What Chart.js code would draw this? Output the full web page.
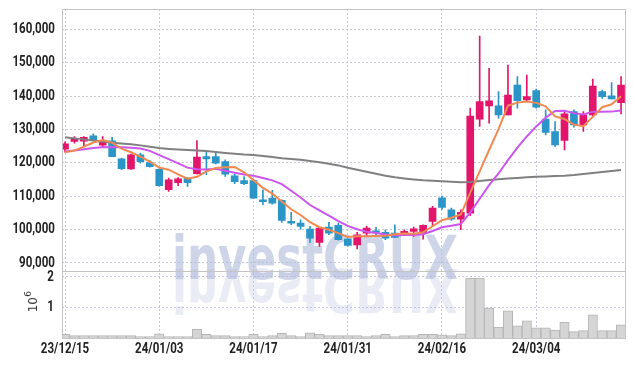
<!DOCTYPE html>
<html><head><meta charset="utf-8">
<script src="https://cdn.jsdelivr.net/npm/chart.js@4"></script>
<style>html,body{margin:0;padding:0;background:#fff;}canvas{display:block;}</style>
</head><body>
<canvas id="c" width="634" height="366"></canvas>
<script>
const dates = ['23/12/15','23/12/18','23/12/19','23/12/20','23/12/21','23/12/22','23/12/26','23/12/27','23/12/28','24/01/02',
'24/01/03','24/01/04','24/01/05','24/01/08','24/01/09','24/01/10','24/01/11','24/01/12','24/01/15','24/01/16',
'24/01/17','24/01/18','24/01/19','24/01/22','24/01/23','24/01/24','24/01/25','24/01/26','24/01/29','24/01/30',
'24/01/31','24/02/01','24/02/02','24/02/05','24/02/06','24/02/07','24/02/08','24/02/13','24/02/14','24/02/15',
'24/02/16','24/02/19','24/02/20','24/02/21','24/02/22','24/02/23','24/02/26','24/02/27','24/02/28','24/02/29',
'24/03/04','24/03/05','24/03/06','24/03/07','24/03/08','24/03/11','24/03/12','24/03/13','24/03/14','24/03/15'];

const openP = [124100,126350,126450,128050,125250,126550,121150,118150,122350,120050,
118000,111900,114050,115400,116700,121850,121850,120350,116050,114650,
114650,108900,109400,108700,102400,101900,100100,96100,100700,101200,
97100,95400,98900,99600,99100,98900,98700,99400,98900,102400,
109500,105900,103100,104900,133050,137050,137050,134350,143300,138850,
141600,133050,129350,126650,135350,131350,134350,141300,140050,138000];
const highP = [126300,127850,127850,128650,127850,127650,121400,122600,122900,120650,
118200,115400,115550,115600,126650,123350,123350,120850,116650,115850,
114900,111900,111700,108900,105100,102900,100900,100700,102100,101900,
97300,99100,100900,100600,99900,101400,99900,100700,101400,106900,
110000,106400,105900,136350,158000,148300,141300,149300,145800,146300,
142050,135850,132350,135350,135850,135350,145050,141800,144000,145800];
const lowP = [123200,125850,125050,126700,124650,121800,117900,118000,119900,118650,
113000,111400,113100,112900,116600,116400,119650,115870,113700,113400,
109300,107400,107600,102100,101400,100100,96100,94900,98400,96800,
95000,94200,97900,98200,96900,97500,98400,97900,97100,100900,
106000,102700,99900,104100,130850,131850,133350,134300,136350,138300,
136350,128350,124850,123850,130650,129350,133850,139300,139100,134650];
const closeP = [125700,127350,127650,126850,126450,121850,118200,122350,120350,118850,
113100,114900,115200,114050,121700,121150,119900,116600,114350,113700,
109400,108300,107900,102700,101900,100900,97400,100400,98900,96900,
95200,98400,100400,99100,97400,97600,99400,100200,101200,106400,
106600,103100,105100,134000,138300,138550,134350,140300,138600,139800,
136650,129050,125350,134650,131350,134350,143000,139800,139150,143300];

const ma5 = [123170,123650,124850,126050,126800,126030,124200,123140,121840,120320,
118570,117910,116480,115220,115790,117400,118400,118680,118740,117140,
114790,112470,110730,108400,106040,104340,102160,100660,99900,98900,
97760,97960,97960,98000,98100,98580,98780,98740,99160,100960,
102760,103500,104480,111040,117420,123810,130060,137100,138020,138320,
137940,136880,133890,133100,131410,130950,133740,136630,137530,139920];
const ma10 = [123350,123650,124050,124400,124650,124750,124650,124500,124250,123560,
122300,121060,119810,118530,118060,117990,118160,117580,116980,116470,
116100,115440,114710,113570,111590,109570,107320,105700,104150,102470,
101050,100060,99310,98950,98500,98170,98370,98350,98580,99530,
100670,101140,101610,105100,109190,113290,116780,120790,124530,127870,
130880,133470,135500,135560,134870,134450,135310,135260,135320,135670];
const maLong = [127650,127300,127000,126650,126350,126000,125800,125550,125200,124800,
124400,124150,123950,123800,123700,123500,123250,122950,122700,122450,
122300,122000,121700,121350,121100,120870,120500,120150,119700,119200,
118500,117900,117300,116700,116100,115630,115270,114970,114730,114580,
114430,114280,114130,114200,114500,114800,115050,115250,115450,115650,
115800,115900,116000,116100,116300,116650,116900,117200,117500,117850];
const volume = [120000,80000,80000,80000,80000,80000,80000,80000,50000,50000,
140000,50000,50000,50000,280000,120000,80000,80000,50000,50000,
120000,50000,80000,150000,80000,50000,170000,120000,80000,80000,
80000,80000,50000,80000,120000,50000,80000,80000,120000,120000,
100000,80000,140000,1960000,1960000,980000,360000,890000,400000,565000,
330000,330000,260000,510000,210000,240000,760000,240000,240000,430000];

const xTickIndex = [0,10,20,30,40,50];
const priceTicks = [90000,100000,110000,120000,130000,140000,150000,160000];
const volTicks = [1000000,2000000];

const UP = '#e3156b', DOWN = '#2b95c8';
const candleColor = closeP.map((c,i)=> c >= openP[i] ? UP : DOWN);
const pts = arr => arr.map((v,i)=>({x:i,y:v}));

const GRID = '#c9c9da';
const LABEL_FONT = 'bold 15px Roboto, "Liberation Sans", sans-serif';
const SX = 0.77;

function squeezedText(ctx, text, x, y, align){
  ctx.save();
  ctx.translate(x, y);
  ctx.scale(SX, 1);
  ctx.textAlign = align;
  ctx.textBaseline = 'middle';
  ctx.fillText(text, 0, 0);
  ctx.restore();
}

const decor = {
  id:'decor',
  beforeDatasetsDraw(chart){
    const ctx = chart.ctx;
    const ca = chart.chartArea;
    ctx.save();
    ctx.beginPath(); ctx.rect(ca.left, ca.top, ca.right-ca.left, ca.bottom-ca.top); ctx.clip();
    ctx.font = 'bold 61px "DejaVu Sans", sans-serif';
    ctx.textAlign = 'left';
    ctx.textBaseline = 'alphabetic';
    const text = 'investCRUX';
    const w = ctx.measureText(text).width;
    const sx = 286 / w;
    ctx.save();
    ctx.translate(172, 279); ctx.scale(sx, 1);
    ctx.fillStyle = 'rgba(178,188,218,0.62)';
    ctx.fillText(text, 0, 0);
    ctx.restore();
    ctx.save();
    ctx.translate(172, 269); ctx.scale(sx, -1);
    ctx.fillStyle = 'rgba(178,188,218,0.28)';
    ctx.fillText(text, 0, 0);
    ctx.restore();
    ctx.restore();
  },
  afterDraw(chart){
    const ctx = chart.ctx;
    const ca = chart.chartArea;
    const {x, y, yv} = chart.scales;
    const sep = y.bottom;
    ctx.save();
    ctx.strokeStyle = '#c4c4c4'; ctx.lineWidth = 1;
    ctx.strokeRect(Math.round(ca.left)+0.5, Math.round(ca.top)+0.5, Math.round(ca.right-ca.left), Math.round(ca.bottom-ca.top));
    ctx.beginPath(); ctx.moveTo(ca.left, Math.round(sep)+0.5); ctx.lineTo(ca.right, Math.round(sep)+0.5); ctx.stroke();

    // tick labels (condensed)
    ctx.fillStyle = '#222';
    ctx.font = LABEL_FONT;
    priceTicks.forEach(v => squeezedText(ctx, v.toLocaleString('en-US'), ca.left - 7, y.getPixelForValue(v), 'right'));
    volTicks.forEach(v => squeezedText(ctx, String(v/1000000), ca.left - 8, yv.getPixelForValue(v), 'right'));
    xTickIndex.forEach(i => squeezedText(ctx, dates[i], x.getPixelForValue(i), ca.bottom + 11, 'center'));

    // volume unit label
    ctx.translate(34, (yv.top+yv.bottom)/2);
    ctx.rotate(-Math.PI/2);
    ctx.fillStyle = '#333';
    ctx.textBaseline = 'middle';
    ctx.textAlign = 'center';
    ctx.font = '12px "DejaVu Sans", sans-serif';
    ctx.fillText('10', 0, 0);
    ctx.font = '9px "DejaVu Sans", sans-serif';
    ctx.textAlign = 'left';
    ctx.fillText('6', 8, -5);
    ctx.restore();
  }
};

new Chart(document.getElementById('c'), {
  type:'bar',
  data:{
    datasets:[
      {type:'line', label:'MA5', data:pts(ma5), yAxisID:'y', borderColor:'#f08a50', borderWidth:2, pointRadius:0, order:0},
      {type:'line', label:'MA10', data:pts(ma10), yAxisID:'y', borderColor:'#cc55ee', borderWidth:2, pointRadius:0, order:1},
      {type:'line', label:'MA long', data:pts(maLong), yAxisID:'y', borderColor:'#808080', borderWidth:2, pointRadius:0, order:2},
      {label:'body', data:openP.map((o,i)=>({x:i,y:[o,closeP[i]]})), yAxisID:'y', backgroundColor:candleColor, barThickness:7, grouped:false, order:3, minBarLength:1},
      {label:'wick', data:lowP.map((l,i)=>({x:i,y:[l,highP[i]]})), yAxisID:'y', backgroundColor:candleColor, barThickness:1, grouped:false, order:4},
      {label:'volume', data:pts(volume), yAxisID:'yv', backgroundColor:'#d5d5d5', borderColor:'#b5b5b5', borderWidth:1, categoryPercentage:1, barPercentage:1, grouped:false, order:5}
    ]
  },
  options:{
    responsive:false, animation:false, devicePixelRatio:1,
    layout:{padding:{left:0, top:9, right:9, bottom:0}},
    plugins:{legend:{display:false}, tooltip:{enabled:false}},
    scales:{
      x:{type:'linear', min:-0.32, max:59.42, offset:false,
        afterBuildTicks:s=>{s.ticks = xTickIndex.map(v=>({value:v}));},
        afterFit:s=>{s.height = 28;},
        grid:{color:GRID, drawTicks:false, offset:false},
        border:{display:false, dash:[2,2]},
        ticks:{display:false, callback:v=>dates[v]}
      },
      yv:{type:'linear', position:'left', stack:'s', stackWeight:1, min:0, max:2176000,
        afterBuildTicks:s=>{s.ticks = volTicks.map(v=>({value:v}));},
        afterFit:s=>{s.width = 62;},
        grid:{color:GRID, drawTicks:false},
        border:{display:false, dash:[2,2]},
        ticks:{display:false}
      },
      y:{type:'linear', position:'left', stack:'s', stackWeight:3.94, min:87425, max:166080,
        afterBuildTicks:s=>{s.ticks = priceTicks.map(v=>({value:v}));},
        afterFit:s=>{s.width = 62;},
        grid:{color:GRID, drawTicks:false},
        border:{display:false, dash:[2,2]},
        ticks:{display:false}
      }
    }
  },
  plugins:[decor]
});
</script>
</body></html>
